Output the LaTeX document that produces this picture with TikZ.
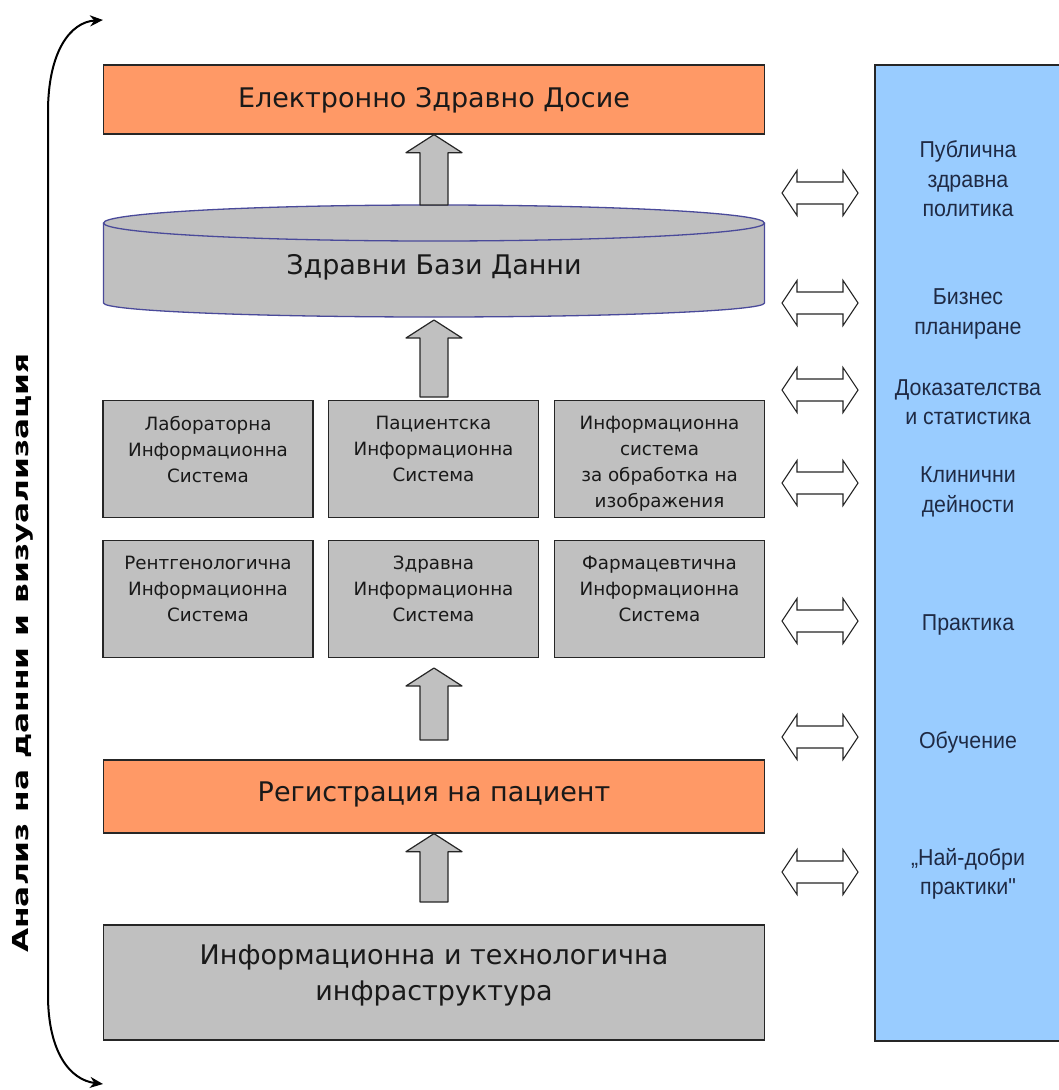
\documentclass[tikz,border=0pt]{standalone}
\usepackage{fontspec}
\setmainfont{DejaVu Sans}
\newfontfamily\boxfont{DejaVu Sans}
\newfontfamily\panelfont[FakeStretch=0.93]{Liberation Sans}
\newfontfamily\sidefont[FakeStretch=1.42]{DejaVu Sans}
\usetikzlibrary{calc,arrows.meta}
\definecolor{orbg}{HTML}{FF9966}
\definecolor{grbg}{HTML}{C0C0C0}
\definecolor{blbg}{HTML}{99CCFF}
\definecolor{cylline}{HTML}{4A4A9A}
\definecolor{paneltext}{HTML}{1F2A44}
\definecolor{edge}{HTML}{262626}
\newcommand\uparr[2]{\path[blockarrow] let \p1=(#1), \p2=(#2) in
  (\x1-14pt,\y1) -- (\x1-14pt,\y2-18pt) -- (\x1-28pt,\y2-18pt) -- (\x1,\y2)
  -- (\x1+28pt,\y2-18pt) -- (\x1+14pt,\y2-18pt) -- (\x1+14pt,\y1) -- cycle;}
\newcommand\dblarr[1]{\path[dblarrow] let \p1=(#1) in
  (\x1-38pt,\y1) -- (\x1-23pt,\y1+22.5pt) -- (\x1-23pt,\y1+11pt) -- (\x1+23pt,\y1+11pt)
  -- (\x1+23pt,\y1+22.5pt) -- (\x1+38pt,\y1) -- (\x1+23pt,\y1-22.5pt) -- (\x1+23pt,\y1-11pt)
  -- (\x1-23pt,\y1-11pt) -- (\x1-23pt,\y1-22.5pt) -- cycle;}
\tikzset{
  widebox/.style={draw=edge, line width=1.3pt, minimum width=661pt, inner sep=0pt},
  orangebox/.style={widebox, fill=orbg},
  graybox/.style={widebox, fill=grbg},
  bigtext/.style={font=\boxfont\fontsize{27pt}{36pt}\selectfont, text=black!90, align=center, inner sep=0pt},
  sysbox/.style={draw=edge, line width=1.3pt, fill=grbg, minimum width=210pt, minimum height=117.5pt, inner sep=0pt},
  systext/.style={anchor=north, yshift=-16pt, align=center, inner sep=0pt,
    font=\boxfont\fontsize{18.3pt}{26pt}\selectfont, text=black!90},
  paneltxt/.style={align=center, inner sep=0pt, text=paneltext,
    font=\panelfont\fontsize{23pt}{29.5pt}\selectfont},
  blockarrow/.style={fill=grbg, draw=edge, line width=1.2pt, line join=round},
  dblarrow/.style={fill=white, draw=edge, line width=1.1pt, line join=miter},
}
\begin{document}
\begin{tikzpicture}[x=1pt,y=-1pt]
\useasboundingbox (0,0) rectangle (1058,1090);

% right panel
\path[fill=blbg, draw=edge, line width=1.3pt] (875,65) rectangle (1062,1041);
\node[paneltxt] (pub) at (968,179) {Публична\\здравна\\политика};
\node[paneltxt] (biz) at (968,314) {Бизнес\\планиране};
\node[paneltxt] (dok) at (968,402) {Доказателства\\и статистика};
\node[paneltxt] (klin) at (968,492) {Клинични\\дейности};
\node[paneltxt] (prak) at (968,625) {Практика};
\node[paneltxt] (obu) at (968,742) {Обучение};
\node[paneltxt] (nai) at (968,874) {„Най-добри\\практики"};

% top box
\node[orangebox, minimum height=69pt] (edz) at (434,99.5) {};
\node[bigtext] (edzt) at (434,100) {Електронно Здравно Досие};

% cylinder
\fill[grbg] (103.5,223) -- (103.5,303) arc[start angle=180,end angle=360,x radius=330.5pt,y radius=14pt]
  -- (764.5,223) arc[start angle=0,end angle=180,x radius=330.5pt,y radius=18pt] -- cycle;
\draw[cylline, line width=1.3pt] (103.5,223) -- (103.5,303) arc[start angle=180,end angle=360,x radius=330.5pt,y radius=14pt] -- (764.5,223);
\draw[cylline, line width=1.3pt] (434,223) ellipse [x radius=330.5pt, y radius=18pt];
\node[bigtext] (db) at (434,267) {Здравни Бази Данни};
\coordinate (dbtop) at (434,205);
\coordinate (dbbot) at (434,320);

% system boxes
\node[sysbox, label={[systext]north:{Лабораторна\\Информационна\\Система}}] (lab) at (208,459) {};
\node[sysbox, label={[systext]north:{Пациентска\\Информационна\\Система}}] (pac) at (433.5,459) {};
\node[sysbox, label={[systext]north:{Информационна\\система\\за обработка на\\изображения}}] (img) at (659.5,459) {};
\node[sysbox, label={[systext]north:{Рентгенологична\\Информационна\\Система}}] (rtg) at (208,599) {};
\node[sysbox, label={[systext]north:{Здравна\\Информационна\\Система}}] (zdr) at (433.5,599) {};
\node[sysbox, label={[systext]north:{Фармацевтична\\Информационна\\Система}}] (far) at (659.5,599) {};

% registration
\node[orangebox, minimum height=73pt] (reg) at (434,796.5) {};
\node[bigtext] (regt) at (434,794) {Регистрация на пациент};

% infrastructure
\node[graybox, minimum height=115pt] (inf) at (434,982.5) {};
\node[bigtext] (inft) at (434,975) {Информационна и технологична\\инфраструктура};

% block arrows
\coordinate (a2s) at (434,397);
\coordinate (a3s) at (434,740);
\coordinate (a3e) at (434,668);
\coordinate (a4s) at (434,902);
\uparr{dbtop}{edz.south}
\uparr{a2s}{dbbot}
\uparr{a3s}{a3e}
\uparr{a4s}{reg.south}

% double arrows
\coordinate (d1) at (820,193);
\coordinate (d2) at (820,303);
\coordinate (d3) at (820,390);
\coordinate (d4) at (820,483);
\coordinate (d5) at (820,621);
\coordinate (d6) at (820,737);
\coordinate (d7) at (820,872);
\dblarr{d1}\dblarr{d2}\dblarr{d3}\dblarr{d4}\dblarr{d5}\dblarr{d6}\dblarr{d7}

% left curved arrow
\coordinate (ctop) at (103,20);
\coordinate (cbot) at (103,1084);
\draw[line width=2pt, {Stealth[length=13pt,width=11pt]}-{Stealth[length=13pt,width=11pt]}]
  (ctop) .. controls (70,22) and (48,52) .. (48,112) -- (48,995)
  .. controls (48,1052) and (70,1080) .. (cbot);
\node[rotate=90, inner sep=0pt, font=\sidefont\bfseries\fontsize{22pt}{26pt}\selectfont] (side) at (23,653) {Анализ на данни и визуализация};
\end{tikzpicture}
\end{document}
